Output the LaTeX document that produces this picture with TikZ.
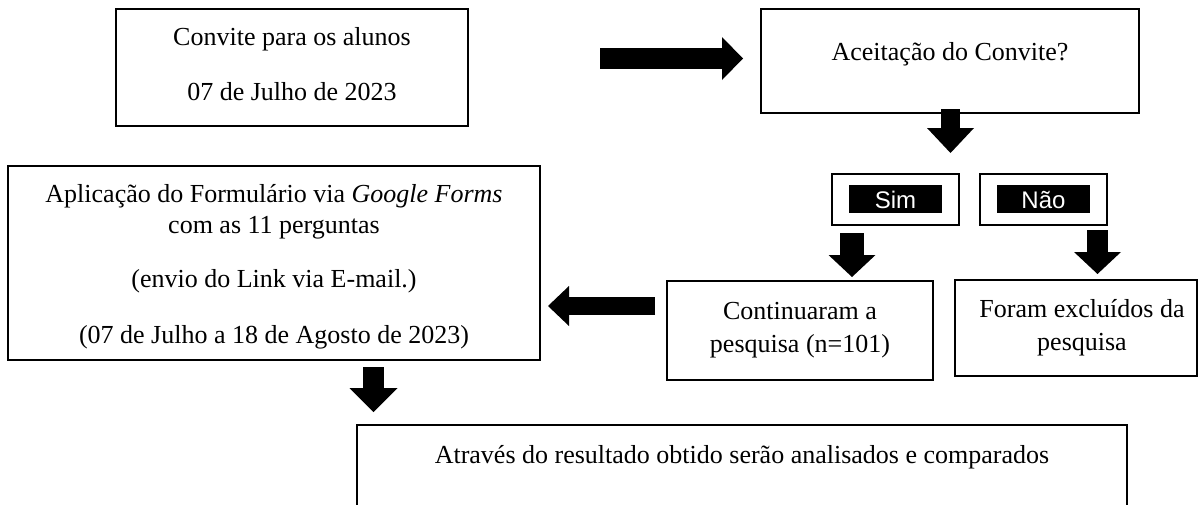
\documentclass[tikz,border=0pt]{standalone}
\usepackage{fontspec}
\setmainfont{Liberation Serif}
\newfontfamily\sansarial{Liberation Sans}
\usetikzlibrary{arrows.meta}
\begin{document}
\begin{tikzpicture}[x=0.5pt,y=-0.5pt,
  box/.style={draw, line width=1pt, inner sep=0pt, outer sep=0pt},
  inbox/.style={fill=black, draw=none, inner sep=0pt, outer sep=0pt},
  txt/.style={anchor=base, inner sep=0pt, font=\fontsize{13}{15.5}\selectfont},
  lbl/.style={anchor=base, inner sep=0pt, text=white, font=\sansarial\fontsize{12}{14}\selectfont},
  barrow/.style n args={3}{line width=#1, -{Triangle[width=#2, length=#3, line width=0pt]}},
]
\path[use as bounding box] (0,0) rectangle (1200,504);
\clip (0,0) rectangle (1200,504);

% boxes
\node[box, minimum width=176pt, minimum height=58.5pt] (convite) at (292,67.5) {};
\node[box, minimum width=189pt, minimum height=52pt] (aceit) at (950,61) {};
\node[box, minimum width=63.5pt, minimum height=25.5pt] (sim) at (895.5,199.5) {};
\node[inbox, minimum width=46.5pt, minimum height=14pt] (simin) at (895.5,199) {};
\node[box, minimum width=63.5pt, minimum height=25.5pt] (nao) at (1043.5,199.5) {};
\node[inbox, minimum width=46.5pt, minimum height=14pt] (naoin) at (1043.5,199) {};
\node[box, minimum width=266pt, minimum height=97pt] (aplic) at (274,263) {};
\node[box, minimum width=133pt, minimum height=49.5pt] (cont) at (800,330.5) {};
\node[box, minimum width=121pt, minimum height=48pt] (foram) at (1076,328) {};
\node[box, minimum width=385pt, minimum height=57.5pt] (final) at (742,482.5) {};

% texts
\node[txt] (t1a) at (292,45) {Convite para os alunos};
\node[txt] (t1b) at (292,100) {07 de Julho de 2023};
\node[txt] (t2) at (950,60) {Aceitação do Convite?};
\node[lbl] (tsim) at (895.5,208) {Sim};
\node[lbl] (tnao) at (1043.5,208) {Não};
\node[txt] (t3a) at (274,202) {Aplicação do Formulário via \textit{Google Forms}};
\node[txt] (t3b) at (274,233) {com as 11 perguntas};
\node[txt] (t3c) at (274,287) {(envio do Link via E-mail.)};
\node[txt] (t3d) at (274,343) {(07 de Julho a 18 de Agosto de 2023)};
\node[txt] (t4a) at (800,319) {Continuaram a};
\node[txt] (t4b) at (800,352) {pesquisa (n=101)};
\node[txt] (t5a) at (1082,317) {Foram excluídos da};
\node[txt] (t5b) at (1082,350) {pesquisa};
\node[txt] (t6) at (742,463) {Através do resultado obtido serão analisados e comparados};

% arrow end points
\coordinate (a1s) at (600,58.5);   \coordinate (a1e) at (743,58.5);
\coordinate (a2s) at (950.5,109);  \coordinate (a2e) at (950.5,153);
\coordinate (a3s) at (852,233);    \coordinate (a3e) at (852,277);
\coordinate (a4s) at (1097.5,230); \coordinate (a4e) at (1097.5,274);
\coordinate (a5s) at (655,306);    \coordinate (a5e) at (548,306);
\coordinate (a6s) at (373.5,367);  \coordinate (a6e) at (373.5,412);

\draw[barrow={10.5pt}{21.5pt}{10.5pt}] (a1s) -- (a1e);
\draw[barrow={9.75pt}{23.5pt}{12.5pt}] (a2s) -- (a2e);
\draw[barrow={12pt}{23.5pt}{11pt}] (a3s) -- (a3e);
\draw[barrow={10.5pt}{23.5pt}{11pt}] (a4s) -- (a4e);
\draw[barrow={9pt}{20pt}{10.5pt}] (a5s) -- (a5e);
\draw[barrow={10.5pt}{24pt}{12pt}] (a6s) -- (a6e);
\end{tikzpicture}
\end{document}
